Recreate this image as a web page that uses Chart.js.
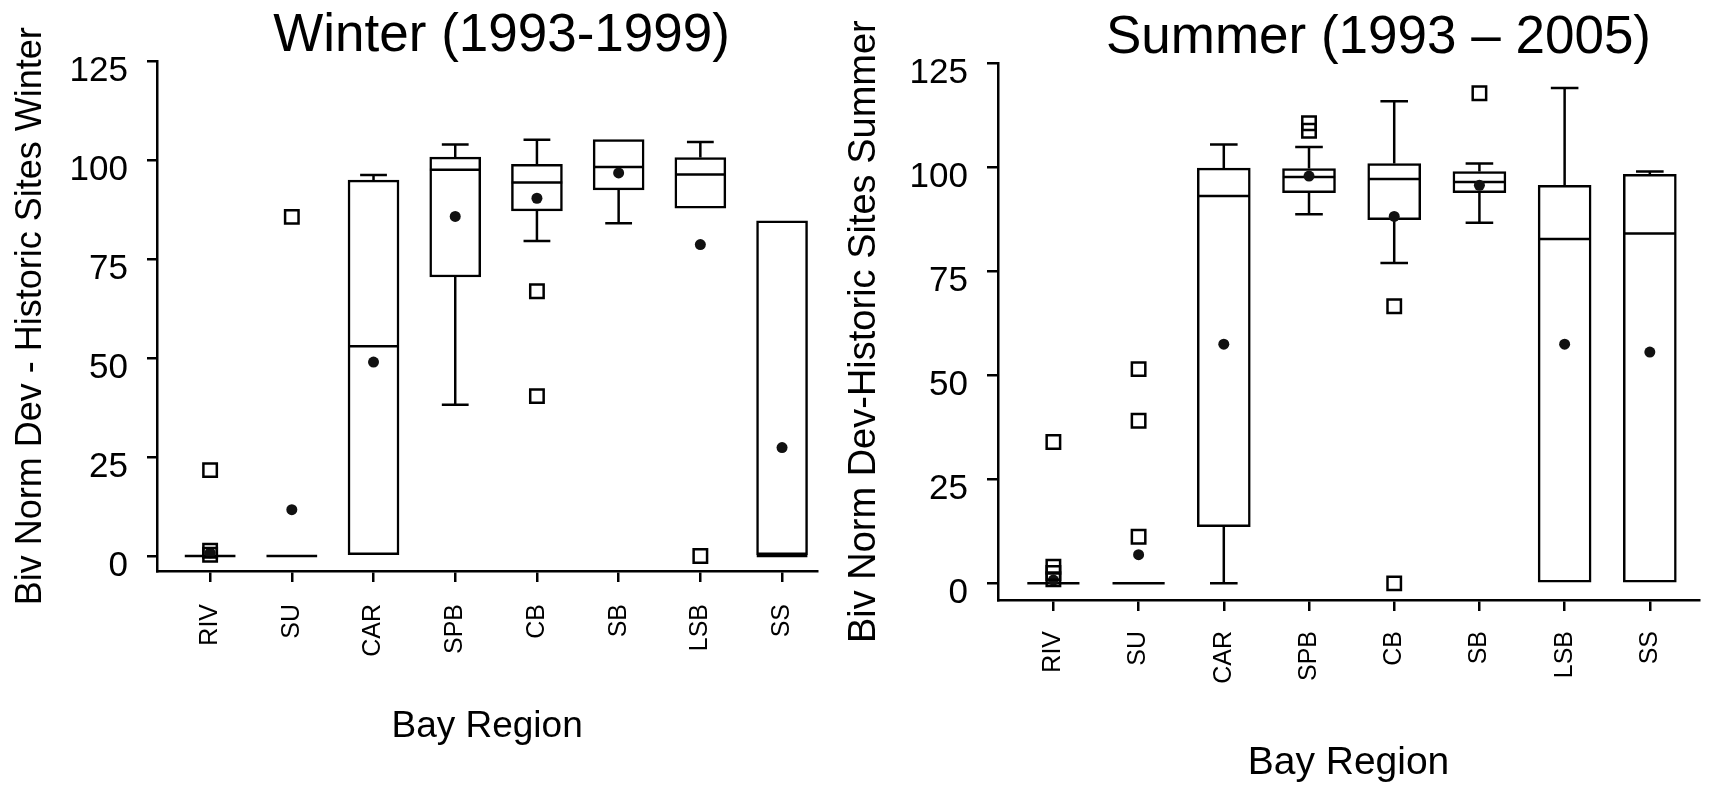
<!DOCTYPE html>
<html><head><meta charset="utf-8">
<script src="https://cdn.jsdelivr.net/npm/chart.js@4.4.1/dist/chart.umd.min.js"></script>
<style>
html,body{margin:0;padding:0;background:#fff;width:1711px;height:786px;overflow:hidden;}
canvas{position:absolute;top:0;}
#cw{left:0;} #cs{left:835px;}
</style></head><body>
<canvas id="cw" width="835" height="786"></canvas>
<canvas id="cs" width="876" height="786"></canvas>
<script>
// ---- data ----
const categories = ['RIV','SU','CAR','SPB','CB','SB','LSB','SS'];
const yTickValues = [0, 25, 50, 75, 100, 125];

const winterMin      = [0, 0, 0,    38.2, 79.6, 84.1, 87.9, 0];
const winterQ1       = [0, 0, 0,    70.5, 87.2, 92.5, 87.9, 0];
const winterMedian   = [0, 0, 53.0, 97.6, 94.4, 98.3, 96.4, 0];
const winterQ3       = [0, 0, 95.0, 100.8, 99.0, 105.2, 100.7, 84.7];
const winterMax      = [0, 0, 96.3, 104.0, 105.2, 105.2, 104.6, 84.7];
const winterMean     = [0.8, 11.7, 49.0, 85.8, 90.4, 96.8, 78.7, 27.4];
const winterOutliers = [[0.3, 1.3, 21.7], [85.7], [], [], [66.9, 40.4], [], [0], []];

const summerMin      = [0, 0, 0,    88.7, 77.0, 86.7, 0,    0];
const summerQ1       = [0, 0, 13.6, 93.9, 87.4, 93.9, 0,    0];
const summerMedian   = [0, 0, 93.1, 97.7, 97.2, 96.5, 82.8, 84.1];
const summerQ3       = [0, 0, 99.8, 99.7, 100.9, 99.0, 95.7, 98.3];
const summerMax      = [0, 0, 105.5, 104.9, 115.9, 100.9, 119.1, 99.0];
const summerMean     = [0.8, 6.9, 57.5, 97.9, 88.2, 95.7, 57.5, 55.6];
const summerOutliers = [[1, 2.5, 4, 34], [11.2, 39.1, 51.5], [], [108.8, 110.6], [0, 66.6], [117.8], [], []];

// ---- rendering ----
const FAMILY = "'Liberation Sans', Arial, Helvetica, sans-serif";
const LW = 2.5;
Chart.defaults.font.family = FAMILY;
Chart.defaults.color = '#000';

const titleShift = {
  id: 'titleShift',
  afterLayout(chart, args, opts) {
    const t = chart.titleBlock;
    if (t && opts && opts.dx) { t.left += opts.dx; t.right += opts.dx; }
  }
};

function buildSegments(mn, q1, med, q3, mx, medHalf, capHalf) {
  const pts = [];
  const seg = (x1, y1, x2, y2) => { pts.push({x: x1, y: y1}, {x: x2, y: y2}, {x: x2, y: null}); };
  categories.forEach((c, i) => {
    seg(i - medHalf, med[i], i + medHalf, med[i]);
    if (mx[i] > q3[i]) { seg(i, q3[i], i, mx[i]); seg(i - capHalf, mx[i], i + capHalf, mx[i]); }
    if (mn[i] < q1[i]) { seg(i, q1[i], i, mn[i]); seg(i - capHalf, mn[i], i + capHalf, mn[i]); }
  });
  return pts;
}

function makeChart(id, cfg) {
  const s = cfg.stats;
  const boxes = categories.map((c, i) => ({x: i, y: [s.q1[i], s.q3[i]]}));
  const means = categories.map((c, i) => ({x: i, y: s.mean[i]}));
  const outl = [];
  s.out.forEach((arr, i) => arr.forEach(v => outl.push({x: i, y: v})));
  const segs = buildSegments(s.min, s.q1, s.med, s.q3, s.max, cfg.medHalf, cfg.capHalf);

  return new Chart(document.getElementById(id), {
    type: 'bar',
    data: {
      datasets: [
        { type: 'bar', data: boxes, backgroundColor: '#fff', borderColor: '#000', borderWidth: LW,
          borderSkipped: false, barThickness: cfg.boxPx, order: 3 },
        { type: 'line', data: segs, borderColor: '#000', borderWidth: LW, pointRadius: 0,
          spanGaps: false, tension: 0, fill: false, order: 2 },
        { type: 'line', data: means, showLine: false, pointStyle: 'circle', pointRadius: 5.5,
          pointBackgroundColor: '#111', pointBorderColor: '#111', pointBorderWidth: 0, order: 1 },
        { type: 'line', data: outl, showLine: false, pointStyle: 'rect', pointRadius: 9.5,
          pointBackgroundColor: 'rgba(0,0,0,0)', pointBorderColor: '#000', pointBorderWidth: LW, order: 0 }
      ]
    },
    options: {
      responsive: false, animation: false, devicePixelRatio: 1,
      layout: { padding: { left: 0, right: cfg.padRight, top: 0, bottom: 0 } },
      plugins: {
        legend: { display: false },
        tooltip: { enabled: false },
        title: { display: true, text: cfg.title, fullSize: false, color: '#000',
                 font: { family: FAMILY, size: 53, weight: 'normal', lineHeight: 0.95 },
                 padding: { top: cfg.titleTop, bottom: 0 } },
        titleShift: { dx: cfg.titleDx }
      },
      scales: {
        x: {
          type: 'linear', min: cfg.xMin, max: cfg.xMax, offset: false,
          grid: { display: true, drawOnChartArea: false, drawTicks: true, tickLength: 11,
                  color: '#000', lineWidth: LW, offset: false },
          border: { display: true, color: '#000', width: LW },
          ticks: { autoSkip: false, maxRotation: 90, minRotation: 90, padding: cfg.xTickPad, color: '#000',
                   font: { family: FAMILY, size: 25 },
                   callback: (v) => categories[v] !== undefined ? categories[v] : '' },
          afterBuildTicks: (sc) => { sc.ticks = categories.map((c, i) => ({value: i})); },
          afterFit: (sc) => { sc.height = cfg.xAxisH; },
          title: { display: true, text: 'Bay Region', color: '#000',
                   font: { family: FAMILY, size: cfg.xTitleSize, lineHeight: 1 },
                   padding: { top: 0, bottom: cfg.xTitlePad } }
        },
        y: {
          type: 'linear', min: cfg.yMin, max: 125,
          grid: { display: true, drawOnChartArea: false, drawTicks: true, tickLength: cfg.yTickLen,
                  color: '#000', lineWidth: LW },
          border: { display: true, color: '#000', width: LW },
          ticks: { padding: cfg.yTickPad, labelOffset: 10, color: '#000',
                   font: { family: FAMILY, size: 35 } },
          afterBuildTicks: (sc) => { sc.ticks = yTickValues.map(v => ({value: v})); },
          afterFit: (sc) => { sc.width = cfg.yAxisW; },
          title: { display: true, text: cfg.yTitle, color: '#000',
                   font: { family: FAMILY, size: cfg.yTitleSize, lineHeight: 1 },
                   padding: { top: cfg.yTitlePad, bottom: 0 } }
        }
      }
    },
    plugins: [titleShift]
  });
}

makeChart('cw', {
  stats: { min: winterMin, q1: winterQ1, med: winterMedian, q3: winterQ3, max: winterMax,
           mean: winterMean, out: winterOutliers },
  title: 'Winter (1993-1999)', titleTop: 11, titleDx: 14.5,
  yTitle: 'Biv Norm Dev - Historic Sites Winter', yTitleSize: 36, yTitlePad: 13,
  xMin: -0.65, xMax: 7.43, yMin: -3.8,
  padRight: 12, yAxisW: 157, xAxisH: 215,
  boxPx: 51, medHalf: 0.31, capHalf: 0.164,
  xTickPad: 22, yTickPad: 19, yTickLen: 10,
  xTitleSize: 37, xTitlePad: 41
});

makeChart('cs', {
  stats: { min: summerMin, q1: summerQ1, med: summerMedian, q3: summerQ3, max: summerMax,
           mean: summerMean, out: summerOutliers },
  title: 'Summer (1993 \u2013 2005)', titleTop: 13, titleDx: 30,
  yTitle: 'Biv Norm Dev-Historic Sites Summer', yTitleSize: 38, yTitlePad: 11,
  xMin: -0.65, xMax: 7.577, yMin: -4.0,
  padRight: 0, yAxisW: 163, xAxisH: 186,
  boxPx: 53, medHalf: 0.306, capHalf: 0.162,
  xTickPad: 20, yTickPad: 19, yTickLen: 11,
  xTitleSize: 39, xTitlePad: 3
});
</script>
</body></html>
